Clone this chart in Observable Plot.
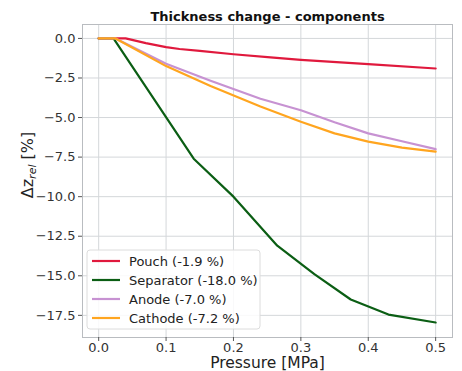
<!DOCTYPE html>
<html><head><meta charset="utf-8">
<script src="https://cdn.jsdelivr.net/npm/d3@7"></script>
<script src="https://cdn.jsdelivr.net/npm/@observablehq/plot@0.6"></script>
<style>body{margin:0;background:#fff;font-family:"DejaVu Sans",sans-serif;}</style>
</head><body><div id="chart"></div>
<script>
const seriesNames = ["Pouch (-1.9 %)", "Separator (-18.0 %)", "Anode (-7.0 %)", "Cathode (-7.2 %)"];
const seriesColors = ["#e0193d", "#0b5e14", "#c792d2", "#ffa51f"];
const pouchX = [0, 0.04, 0.07, 0.1, 0.12, 0.15, 0.2, 0.255, 0.3, 0.4, 0.5];
const pouchY = [0, 0, -0.3, -0.55, -0.67, -0.79, -1.0, -1.2, -1.35, -1.63, -1.9];
const sepX = [0, 0.022, 0.141, 0.2, 0.265, 0.32, 0.374, 0.43, 0.5];
const sepY = [0, 0, -7.6, -10.0, -13.1, -14.9, -16.5, -17.45, -17.95];
const anodeX = [0, 0.025, 0.1, 0.166, 0.24, 0.3, 0.35, 0.4, 0.45, 0.5];
const anodeY = [0, 0, -1.6, -2.67, -3.81, -4.54, -5.3, -6.0, -6.5, -7.0];
const cathX = [0, 0.025, 0.1, 0.166, 0.24, 0.3, 0.35, 0.4, 0.45, 0.5];
const cathY = [0, 0, -1.75, -3.0, -4.3, -5.27, -6.0, -6.52, -6.9, -7.15];
const xTicks = [0, 0.1, 0.2, 0.3, 0.4, 0.5];
const yTicks = [0, -2.5, -5, -7.5, -10, -12.5, -15, -17.5];

const allX = [pouchX, sepX, anodeX, cathX];
const allY = [pouchY, sepY, anodeY, cathY];
const data = [];
allX.forEach((xs, i) => xs.forEach((x, j) => data.push({x, y: allY[i][j], s: seriesNames[i]})));

const W = 462, H = 371;
const plot = Plot.plot({
  width: W, height: H,
  marginLeft: 82, marginRight: 10, marginTop: 24, marginBottom: 34,
  style: {fontFamily: "DejaVu Sans", fontSize: "13px", color: "#333", background: "#fff"},
  x: {domain: [-0.024, 0.525], label: null},
  y: {domain: [-18.9, 0.88], label: null},
  color: {domain: seriesNames, range: seriesColors},
  marks: [
    Plot.gridX(xTicks, {stroke: "#d4d7da", strokeOpacity: 1, strokeWidth: 1}),
    Plot.gridY(yTicks, {stroke: "#d4d7da", strokeOpacity: 1, strokeWidth: 1}),
    Plot.frame({stroke: "#b9bcc0", strokeWidth: 1}),
    Plot.axisX(xTicks, {tickFormat: d3.format(".1f"), tickSize: 4, tickPadding: 1, stroke: "#555", fill: "#333", fontSize: 13}),
    Plot.axisY(yTicks, {tickFormat: d3.format(".1f"), tickSize: 4, tickPadding: 3, stroke: "#555", fill: "#333", fontSize: 13}),
    Plot.line(data, {x: "x", y: "y", z: "s", stroke: "s", strokeWidth: 2.2}),
    Plot.text(["Thickness change - components"], {frameAnchor: "top", lineAnchor: "middle", dy: -8, fontWeight: "bold", fontSize: 13, fill: "#111"}),
    Plot.text(["Pressure [MPa]"], {frameAnchor: "bottom", lineAnchor: "middle", dy: 26, fontSize: 15.5, fill: "#222"})
  ]
});
document.getElementById("chart").appendChild(plot);

const svg = d3.select(plot);
// y label with subscript
const yl = svg.append("text").attr("transform", "translate(33,165) rotate(-90)")
  .attr("text-anchor", "middle").attr("font-size", 16).attr("fill", "#222");
yl.append("tspan").text("Δz");
yl.append("tspan").attr("font-size", 11).attr("font-style", "italic").attr("dy", 3).text("rel");
yl.append("tspan").attr("dy", -3).text(" [%]");

// legend
const lg = svg.append("g").attr("transform", "translate(87,250)").attr("text-anchor", "start");
lg.append("rect").attr("width", 173).attr("height", 79).attr("rx", 3)
  .attr("fill", "#fff").attr("fill-opacity", 0.85).attr("stroke", "#dcdcdc");
seriesNames.forEach((n, i) => {
  const y = 11 + i * 19;
  lg.append("line").attr("x1", 5).attr("x2", 33).attr("y1", y).attr("y2", y)
    .attr("stroke", seriesColors[i]).attr("stroke-width", 2.2);
  lg.append("text").attr("x", 42).attr("y", y).attr("dy", "0.35em").attr("text-anchor", "start")
    .attr("font-size", 13).attr("fill", "#222").text(n);
});
</script></body></html>
